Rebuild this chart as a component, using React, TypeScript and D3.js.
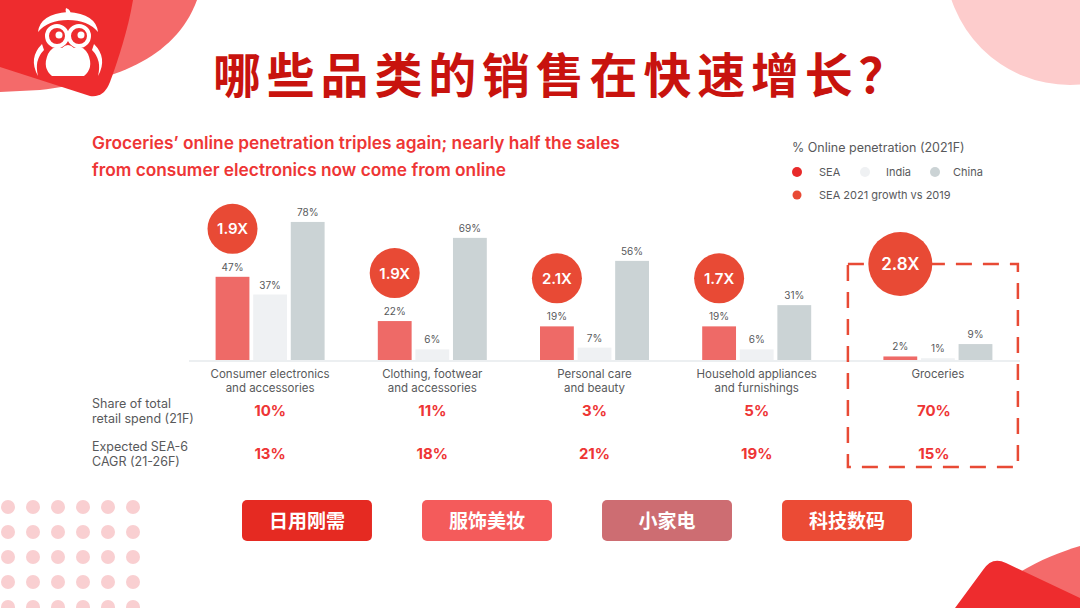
import React from 'react'
import * as d3 from 'd3'

// chart data
const categories = ['Consumer electronics', 'Clothing', 'Personal care', 'Household', 'Groceries']
const categoryLines = [
  ['Consumer electronics', 'and accessories'],
  ['Clothing, footwear', 'and accessories'],
  ['Personal care', 'and beauty'],
  ['Household appliances', 'and furnishings'],
  ['Groceries'],
]
const regions = ['SEA', 'India', 'China']
const seaShare = [47, 22, 19, 19, 2]
const indiaShare = [37, 6, 7, 6, 1]
const chinaShare = [78, 69, 56, 31, 9]
const growth = [1.9, 1.9, 2.1, 1.7, 2.8]
const retailShare = [10, 11, 3, 5, 70]
const seaCagr = [13, 18, 21, 19, 15]
const highlight = 'Groceries'
const tags = ['日用刚需', '服饰美妆', '小家电', '科技数码']

const W = 1080
const H = 608
const FONT = 'Inter, "Noto Sans", sans-serif'
const CJK = '"Noto Sans CJK SC", "Noto Sans", sans-serif'
const RED = '#ee3535'
const GREY_TXT = '#58595b'
const BUBBLE = '#e84a35'
const regionColor = { SEA: '#ee6a67', India: '#eff1f3', China: '#cbd3d5' }
const tagColors = ['#e52a22', '#f45b5b', '#cd6d72', '#eb4b35']

export default function App() {
  const x = d3.scaleBand().domain(categories).range([189, 1000]).paddingInner(0)
  const shift = (c) => (c === highlight ? 19 : 0)
  const cx = (c) => x(c) + x.bandwidth() / 2 + shift(c)
  const inner = d3.scaleBand().domain(regions).range([-54.5, 54.5]).paddingInner(0.1)
  const y = d3.scaleLinear().domain([0, 100]).range([360, 183])
  const baseY = y(0)

  const rows = categories.map((c, i) => ({
    cat: c,
    lines: categoryLines[i],
    vals: { SEA: seaShare[i], India: indiaShare[i], China: chinaShare[i] },
    growth: growth[i],
    retail: retailShare[i],
    cagr: seaCagr[i],
  }))

  // dashed highlight box around groceries
  const hx = cx(highlight)
  const box = { x0: hx - 90, x1: hx + 80, y0: 264, y1: 467 }

  const tagX = d3.scaleBand().domain(tags).range([242, 912]).paddingInner(0.278)

  const dots = d3.cross(d3.range(6), d3.range(5))

  return (
    <svg width={W} height={H} style={{ position: 'absolute', left: 0, top: 0, background: '#fff' }}>
      {/* decorations */}
      <path d="M0,0 L197,0 C175,60 110,82 40,90 L0,92 Z" fill="#f46a6a" />
      <path d="M0,0 L133,0 C128,30 118,60 110,82 Q104,98 90,96 L0,67 Z" fill="#ee2c2e" />
      <circle cx={1070} cy={-40} r={125} fill="#fdcccc" />
      <path d="M1020,572 C1040,560 1060,552 1080,546 L1080,608 L1000,608 Z" fill="#f46a6a" />
      <path d="M955,608 L983,570 Q992,556 1006,563 L1080,598 L1080,608 Z" fill="#ee2c2e" />
      {dots.map(([c, r]) => (
        <circle key={`${c}-${r}`} cx={8 + c * 25} cy={507 + r * 25} r={7} fill="#f9cfd1" />
      ))}

      {/* logo */}
      <g transform="translate(68,50)" fill="#fff">
        <path d="M-2,-42 Q4,-40 2,-34 Q-4,-37 -2,-42 Z" />
        <path d="M-30,-18 Q-28,-36 0,-38 Q28,-36 30,-18 Q20,-30 0,-30 Q-20,-30 -30,-18 Z" />
        <circle cx={-11} cy={-14} r={10} fill="none" stroke="#fff" strokeWidth={4} />
        <circle cx={11} cy={-14} r={10} fill="none" stroke="#fff" strokeWidth={4} />
        <circle cx={-9} cy={-15} r={3.5} />
        <circle cx={13} cy={-15} r={3.5} />
        <path d="M-6,-2 Q0,-8 6,-2 Q14,-6 20,4 Q26,18 16,26 L-16,26 Q-26,18 -20,4 Q-14,-6 -6,-2 Z" />
        <path d="M-26,-6 Q-40,8 -30,26 Q-34,10 -24,0 Z" />
        <path d="M26,-6 Q40,8 30,26 Q34,10 24,0 Z" />
      </g>

      {/* title */}
      <text x={213} y={93} fill="#c8130e" fontFamily={CJK}
        fontWeight={700} fontSize={48} letterSpacing={5.8}>
        哪些品类的销售在快速增长？
      </text>

      {/* subtitle */}
      <g fontFamily={FONT} fontWeight={600} fontSize={17.3} fill={RED}>
        <text x={92} y={149}>Groceries’ online penetration triples again; nearly half the sales</text>
        <text x={92} y={176}>from consumer electronics now come from online</text>
      </g>

      {/* legend */}
      <g fontFamily={FONT} fill={GREY_TXT}>
        <text x={792} y={152} fontSize={12.5}>% Online penetration (2021F)</text>
        {regions.map((r, i) => {
          const lx = [797, 865, 935][i]
          return (
            <g key={r}>
              <circle cx={lx} cy={172} r={5} fill={r === 'SEA' ? '#e82a2a' : regionColor[r]} />
              <text x={lx + [22, 21, 18][i]} y={176} fontSize={11}>{r}</text>
            </g>
          )
        })}
        <circle cx={797} cy={195} r={4.5} fill={BUBBLE} />
        <text x={819} y={199} fontSize={11}>SEA 2021 growth vs 2019</text>
      </g>

      {/* baseline */}
      <line x1={189} x2={1020} y1={baseY + 1} y2={baseY + 1} stroke="#eceff1" strokeWidth={2} />

      {/* dashed highlight box */}
      <rect x={box.x0} y={box.y0} width={box.x1 - box.x0} height={box.y1 - box.y0}
        fill="none" stroke={BUBBLE} strokeWidth={2.5} strokeDasharray="16 11" />

      {rows.map((d) => {
        const c = cx(d.cat)
        const big = d.cat === highlight
        const bubbleY = big ? box.y0 : y(d.vals.SEA) - 48
        const bubbleX = c + inner('SEA') + inner.bandwidth() / 2
        return (
          <g key={d.cat} fontFamily={FONT}>
            {regions.map((r) => (
              <g key={r}>
                <rect x={c + inner(r)} y={y(d.vals[r])} width={inner.bandwidth()}
                  height={baseY - y(d.vals[r])} fill={regionColor[r]} />
                <text x={c + inner(r) + inner.bandwidth() / 2} y={y(d.vals[r]) - 6}
                  textAnchor="middle" fontSize={10} fill={GREY_TXT}>{d.vals[r]}%</text>
              </g>
            ))}
            <circle cx={bubbleX} cy={bubbleY} r={big ? 32 : 25} fill={BUBBLE} />
            <text x={bubbleX} y={bubbleY + (big ? 6 : 5.5)} textAnchor="middle" fill="#fff"
              fontWeight={600} fontSize={big ? 17 : 15}>{d.growth.toFixed(1)}X</text>
            {d.lines.map((l, k) => (
              <text key={k} x={c} y={378 + k * 14} textAnchor="middle" fontSize={11.5}
                fill={GREY_TXT}>{l}</text>
            ))}
            <text x={c - (big ? 4 : 0)} y={416} textAnchor="middle" fontSize={15} fontWeight={700}
              fill={RED}>{d.retail}%</text>
            <text x={c - (big ? 4 : 0)} y={459} textAnchor="middle" fontSize={15} fontWeight={700}
              fill={RED}>{d.cagr}%</text>
          </g>
        )
      })}

      {/* row labels */}
      <g fontFamily={FONT} fontSize={12.5} fill={GREY_TXT}>
        <text x={92} y={408}>Share of total</text>
        <text x={92} y={423}>retail spend (21F)</text>
        <text x={92} y={451}>Expected SEA-6</text>
        <text x={92} y={466}>CAGR (21-26F)</text>
      </g>

      {/* category tags */}
      {tags.map((t, i) => (
        <g key={t}>
          <rect x={tagX(t)} y={500} width={tagX.bandwidth()} height={41} rx={5} fill={tagColors[i]} />
          <text x={tagX(t) + tagX.bandwidth() / 2} y={527.5} textAnchor="middle" fill="#fff"
            fontFamily={CJK} fontWeight={700} fontSize={19}>{t}</text>
        </g>
      ))}
    </svg>
  )
}
